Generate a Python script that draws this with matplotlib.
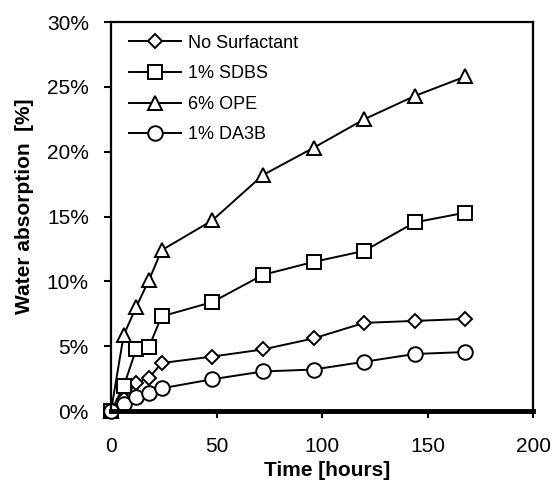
import numpy as np
import matplotlib.pyplot as plt
from matplotlib.ticker import PercentFormatter

plt.rcParams['font.family'] = ['Liberation Sans', 'DejaVu Sans']

# Время выдержки, часы
hours = [0, 6, 12, 18, 24, 48, 72, 96, 120, 144, 168]

# Водопоглощение, %
no_surfactant = [0, 0.9, 2.2, 2.55, 3.7, 4.2, 4.75, 5.6, 6.8, 6.95, 7.1]
sdbs_1 = [0, 1.9, 4.8, 4.95, 7.3, 8.4, 10.5, 11.5, 12.35, 14.55, 15.3]
ope_6 = [0, 5.85, 8.05, 10.1, 12.4, 14.7, 18.2, 20.3, 22.5, 24.3, 25.8]
da3b_1 = [0, 0.55, 1.05, 1.4, 1.75, 2.45, 3.05, 3.2, 3.8, 4.4, 4.55]

series = [
    (no_surfactant, 'D', 7, 'No Surfactant'),
    (sdbs_1, 's', 10, '1% SDBS'),
    (ope_6, '^', 10, '6% OPE'),
    (da3b_1, 'o', 10.5, '1% DA3B'),
]

fig = plt.figure(figsize=(5.52, 4.87), dpi=100)
ax = fig.add_axes([0.2011, 0.156, 0.7645, 0.7988])

for values, marker, size, label in series:
    ax.plot(hours, values, color='black', lw=1.4, marker=marker, ms=size,
            mfc='white', mec='black', mew=1.4, label=label, clip_on=False)

ax.set_xlim(0, 200)
ax.set_ylim(0, 30)
ax.set_xticks(np.arange(0, 201, 50))
ax.set_yticks(np.arange(0, 31, 5))
ax.yaxis.set_major_formatter(PercentFormatter(decimals=0))
ax.tick_params(direction='out', length=5, width=1.5, labelsize=15)
ax.tick_params(axis='y', pad=11)
ax.tick_params(axis='x', pad=14)

for side in ['top', 'right', 'left']:
    ax.spines[side].set_linewidth(1.6)
ax.spines['bottom'].set_linewidth(3.5)

ax.set_xlabel('Time [hours]', fontsize=15, fontweight='bold', va='center')
ax.xaxis.set_label_coords(0.512, -0.152)
ax.set_ylabel('Water absorption  [%]', fontsize=15, fontweight='bold', va='center')
ax.yaxis.set_label_coords(-0.206, 0.527)

ax.legend(loc='upper left', frameon=False, fontsize=13, handlelength=2.88,
          handletextpad=0.37, labelspacing=0.75, borderaxespad=0.2,
          bbox_to_anchor=(0.017, 0.995))

fig.savefig('out.png', dpi=100)
